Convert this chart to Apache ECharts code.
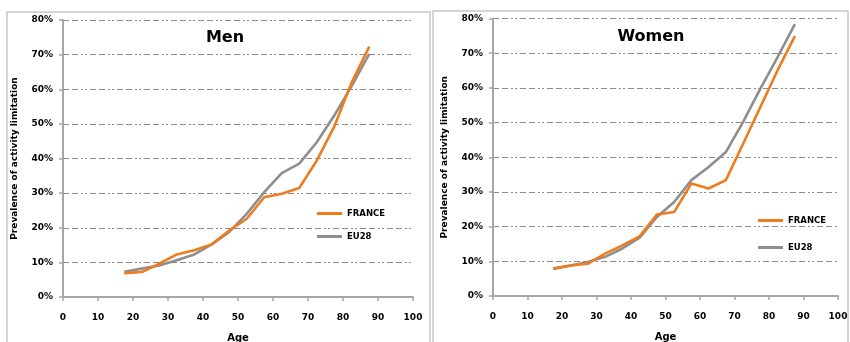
<!DOCTYPE html>
<html>
<head>
<meta charset="utf-8">
<script src="https://cdn.jsdelivr.net/npm/echarts@6/dist/echarts.min.js"></script>
<style>
  html, body { margin: 0; padding: 0; background: #fff; }
  #chart { width: 850px; height: 342px; }
</style>
</head>
<body>
<div id="chart"></div>
<script>
// Age-group midpoints (years)
const ages = [17.5, 22.5, 27.5, 32.5, 37.5, 42.5, 47.5, 52.5, 57.5, 62.5, 67.5, 72.5, 77.5, 82.5, 87.5];

// Prevalence of activity limitation (%), men
const menFrance = [6.9, 7.2, 9.6, 12.3, 13.5, 15.2, 19.2, 22.6, 28.8, 29.8, 31.5, 39.4, 49.2, 62.0, 72.3];
const menEU28   = [7.3, 8.2, 9.1, 10.6, 12.3, 15.2, 18.8, 24.0, 30.3, 35.8, 38.5, 44.7, 52.4, 61.0, 70.2];

// Prevalence of activity limitation (%), women
const womenFrance = [7.9, 8.8, 9.3, 12.2, 14.6, 17.2, 23.5, 24.2, 32.4, 31.0, 33.4, 43.9, 54.5, 65.1, 74.9];
const womenEU28   = [7.9, 8.8, 9.8, 11.3, 13.7, 16.8, 22.8, 27.1, 33.4, 37.2, 41.5, 50.2, 59.8, 68.9, 78.4];

const panelTitles = ['Men', 'Women'];
const seriesNames = ['FRANCE', 'EU28'];
const xAxisName = 'Age';
const yAxisName = 'Prevalence of activity limitation';

const orange = '#EE7C1E';
const grey = '#8E8E8E';
const font = 'DejaVu Sans';

const pairs = (xs, ys) => xs.map((x, i) => [x, ys[i]]);

const gridDash = [6, 3, 6, 3, 2, 2, 2, 3];

function xAxisCfg(gridIndex) {
  return {
    gridIndex, type: 'value', min: 0, max: 100, interval: 10,
    name: xAxisName, nameLocation: 'middle', nameGap: 36,
    nameTextStyle: { fontFamily: font, fontWeight: 'bold', fontSize: 10, color: '#000' },
    axisLine: { lineStyle: { color: '#A6A6A6', width: 2 } },
    axisTick: { show: true, length: 4, lineStyle: { color: '#A6A6A6', width: 1.5 } },
    axisLabel: { fontFamily: font, fontWeight: 'bold', fontSize: 9, color: '#000', margin: 16 },
    splitLine: { show: false }
  };
}

function yAxisCfg(gridIndex) {
  return {
    gridIndex, type: 'value', min: 0, max: 80, interval: 10,
    name: yAxisName, nameLocation: 'middle', nameGap: 44, nameRotate: 90,
    nameTextStyle: { fontFamily: font, fontWeight: 'bold', fontSize: 9, color: '#000' },
    axisLine: { show: true, lineStyle: { color: '#A6A6A6', width: 2 } },
    axisTick: { show: true, length: 4, lineStyle: { color: '#A6A6A6', width: 1.5 } },
    axisLabel: { fontFamily: font, fontWeight: 'bold', fontSize: 9, color: '#000', margin: 10, formatter: '{value}%' },
    splitLine: { show: true, lineStyle: { color: '#8C8C8C', width: 1.2, type: gridDash } }
  };
}

function lineSeries(name, color, idx, xs, ys) {
  return {
    name, type: 'line', xAxisIndex: idx, yAxisIndex: idx,
    data: pairs(xs, ys), showSymbol: false, symbol: 'none',
    lineStyle: { color, width: 2.6 }, itemStyle: { color }
  };
}

const chart = echarts.init(document.getElementById('chart'), null, { renderer: 'canvas' });

chart.setOption({
  animation: false,
  backgroundColor: '#fff',
  graphic: [
    { type: 'rect', shape: { x: 7, y: 12, width: 423, height: 345 }, style: { fill: 'none', stroke: '#C8C8C8', lineWidth: 1.5 } },
    { type: 'rect', shape: { x: 433, y: 11, width: 415, height: 345 }, style: { fill: 'none', stroke: '#C8C8C8', lineWidth: 1.5 } }
  ],
  title: [
    { text: panelTitles[0], left: 220, top: 25, textAlign: 'center',
      textStyle: { fontFamily: font, fontWeight: 'bold', fontSize: 16, color: '#000' } },
    { text: panelTitles[1], left: 646, top: 24, textAlign: 'center',
      textStyle: { fontFamily: font, fontWeight: 'bold', fontSize: 16, color: '#000' } }
  ],
  legend: [
    { data: seriesNames, orient: 'vertical', left: 312, top: 204, itemGap: 14,
      itemWidth: 25, itemHeight: 3, icon: 'rect',
      textStyle: { fontFamily: font, fontWeight: 'bold', fontSize: 8.5, color: '#000' } },
    { data: seriesNames, orient: 'vertical', left: 753, top: 211, itemGap: 18,
      itemWidth: 25, itemHeight: 3, icon: 'rect',
      textStyle: { fontFamily: font, fontWeight: 'bold', fontSize: 8.5, color: '#000' } }
  ],
  grid: [
    { left: 63, top: 20, width: 350, height: 277, outerBoundsMode: 'none', containLabel: false },
    { left: 493, top: 18.5, width: 345, height: 277.5, outerBoundsMode: 'none', containLabel: false }
  ],
  xAxis: [xAxisCfg(0), xAxisCfg(1)],
  yAxis: [yAxisCfg(0), yAxisCfg(1)],
  series: [
    lineSeries(seriesNames[1], grey, 0, ages, menEU28),
    lineSeries(seriesNames[0], orange, 0, ages, menFrance),
    lineSeries(seriesNames[1], grey, 1, ages, womenEU28),
    lineSeries(seriesNames[0], orange, 1, ages, womenFrance)
  ]
});
</script>
</body>
</html>
